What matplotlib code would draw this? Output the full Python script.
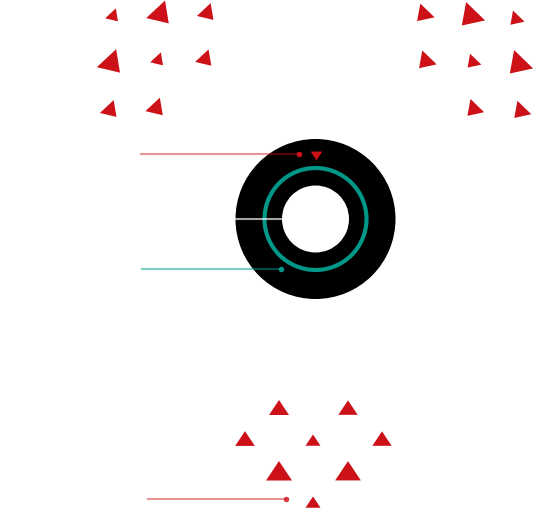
import numpy as np
import matplotlib
matplotlib.use("Agg")
import matplotlib.pyplot as plt
from matplotlib.markers import MarkerStyle
from matplotlib.patches import Wedge, Circle
from matplotlib.transforms import Affine2D

RED = "#cc1118"
TEAL = "#009688"

# triangle clusters: centre (x, y) and base width in pixels
tl_x = [113, 160, 207, 111, 158, 205, 110, 156]
tl_y = [16, 14, 13, 63, 60, 59, 110, 108]
tl_w = [14.6, 25.7, 18.9, 26.4, 14.6, 18.4, 18.9, 19.8]

tr_x = [424, 471, 516, 426, 473, 519, 474, 521]
tr_y = [14, 16, 19, 61, 62, 64, 109, 111]
tr_w = [19.8, 26.4, 16.0, 20.0, 15.6, 26.4, 19.0, 19.3]

bt_x = [279, 348, 245, 313, 382, 279, 348, 313]
bt_y = [410, 410, 441, 442, 441, 474, 474, 504]
bt_w = [20.0, 19.3, 19.7, 15.0, 19.3, 26.0, 25.7, 15.0]

# ring of points
ring_cx, ring_cy = 315.5, 219
ring_inner, ring_outer = 33.5, 80
circle_r = 51

# pointer lines: (x start, x end, y)
ptr_red = (141, 299, 154)
ptr_grey = (236, 283, 219)
ptr_teal = (142, 281, 269)
ptr_bottom = (148, 286, 499)
marker_down = (316, 154, 11.7)

tri = [(0, 1), (-1, -0.5), (1, -0.5)]
PX = 72 / 100.0


def tri_marker(rot):
    return MarkerStyle(tri, transform=Affine2D().rotate_deg(rot))


fig = plt.figure(figsize=(5.34, 5.15), dpi=100)
ax = fig.add_axes([0, 0, 1, 1])
ax.set_xlim(0, 534)
ax.set_ylim(515, 0)
ax.axis("off")

ax.scatter(tl_x, tl_y, s=(np.array(tl_w) * PX) ** 2, marker=tri_marker(-137),
           color=RED, linewidths=0)
ax.scatter(tr_x, tr_y, s=(np.array(tr_w) * PX) ** 2, marker=tri_marker(136),
           color=RED, linewidths=0)
ax.scatter(bt_x, bt_y, s=(np.array(bt_w) * PX) ** 2, marker=tri_marker(0),
           color=RED, linewidths=0)

ax.add_patch(Wedge((ring_cx, ring_cy), ring_outer, 0, 360,
                   width=ring_outer - ring_inner, color="black", lw=0))
ax.add_patch(Circle((ring_cx, ring_cy), circle_r, fill=False,
                    edgecolor=TEAL, lw=3))

# pointers
x0, x1, y = ptr_red
ax.plot([x0, x1], [y, y], color=RED, alpha=0.45, lw=1.5)
ax.plot(x1, y, "o", color=RED, ms=4, mew=0)
x0, x1, y = ptr_grey
ax.plot([x0, x1], [y, y], color="white", alpha=0.65, lw=1.5)
x0, x1, y = ptr_teal
ax.plot([x0, x1], [y, y], color=TEAL, alpha=0.5, lw=1.5)
ax.plot(x1, y, "o", color=TEAL, ms=4, mew=0)
x0, x1, y = ptr_bottom
ax.plot([x0, x1], [y, y], color=RED, alpha=0.45, lw=1.5)
ax.plot(x1, y, "o", color=RED, alpha=0.8, ms=4, mew=0)

mx, my, mw = marker_down
ax.scatter([mx], [my], s=(mw * PX) ** 2, marker=tri_marker(180),
           color=RED, linewidths=0)

fig.savefig("out.png", dpi=100)
